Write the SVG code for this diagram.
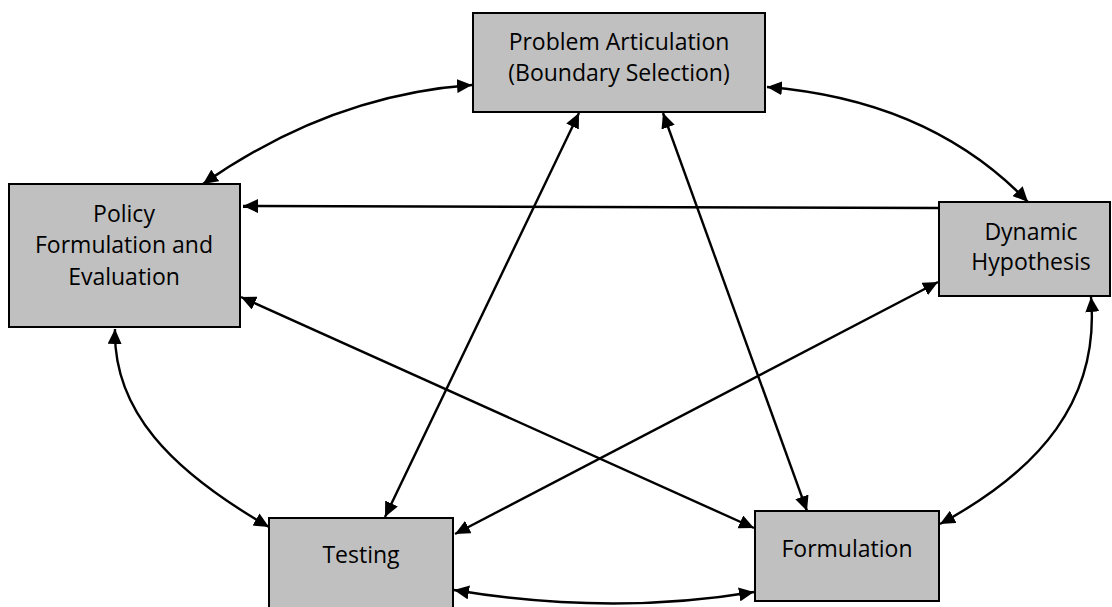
<svg xmlns="http://www.w3.org/2000/svg" width="1112" height="607" viewBox="0 0 1112 607">
  <style>
    .box { fill: #c0c0c0; stroke: #000; stroke-width: 2; }
    .label { font-family: "Open Sans", "Liberation Sans", sans-serif; font-size: 23px; fill: #000; text-anchor: middle; }
    .link { fill: none; stroke: #000; stroke-width: 2.4; }
    .two { marker-start: url(#head); marker-end: url(#head); }
    .one { marker-end: url(#head); }
  </style>
  <defs>
    <marker id="head" markerUnits="userSpaceOnUse" markerWidth="16" markerHeight="14" refX="15" refY="7" orient="auto-start-reverse">
      <path d="M0,0 L15,7 L0,14 Z" fill="#000"/>
    </marker>
  </defs>
  <rect width="1112" height="607" fill="#fff"/>

  <g id="connectors">
    <path class="link two" d="M203,184 Q330,95 472,85"/>
    <path class="link two" d="M767,87 Q930,100 1028,202"/>
    <path class="link one" d="M939,208 L243,206"/>
    <path class="link two" d="M579,113 L385,517"/>
    <path class="link two" d="M663,113 L807,511"/>
    <path class="link two" d="M241,297 L754,528"/>
    <path class="link two" d="M938,282 L455,534"/>
    <path class="link two" d="M115,329 C113,410 170,470 269,527"/>
    <path class="link two" d="M1091,297 C1100,400 1040,470 940,524"/>
    <path class="link two" d="M454,590 Q610,616 754,592"/>
  </g>

  <g id="problem-articulation">
    <rect class="box" x="473" y="13" width="292" height="99"/>
    <text class="label" x="619" y="50">Problem Articulation</text>
    <text class="label" x="619" y="81">(Boundary Selection)</text>
  </g>

  <g id="policy-formulation">
    <rect class="box" x="9" y="184" width="231" height="143"/>
    <text class="label" x="124" y="222">Policy</text>
    <text class="label" x="124" y="253">Formulation and</text>
    <text class="label" x="124" y="285">Evaluation</text>
  </g>

  <g id="dynamic-hypothesis">
    <rect class="box" x="939" y="202" width="171" height="94"/>
    <text class="label" x="1031" y="240">Dynamic</text>
    <text class="label" x="1031" y="270">Hypothesis</text>
  </g>

  <g id="testing">
    <rect class="box" x="269" y="518" width="184" height="100"/>
    <text class="label" x="361" y="563">Testing</text>
  </g>

  <g id="formulation">
    <rect class="box" x="755" y="511" width="184" height="90"/>
    <text class="label" x="847" y="557">Formulation</text>
  </g>
</svg>
